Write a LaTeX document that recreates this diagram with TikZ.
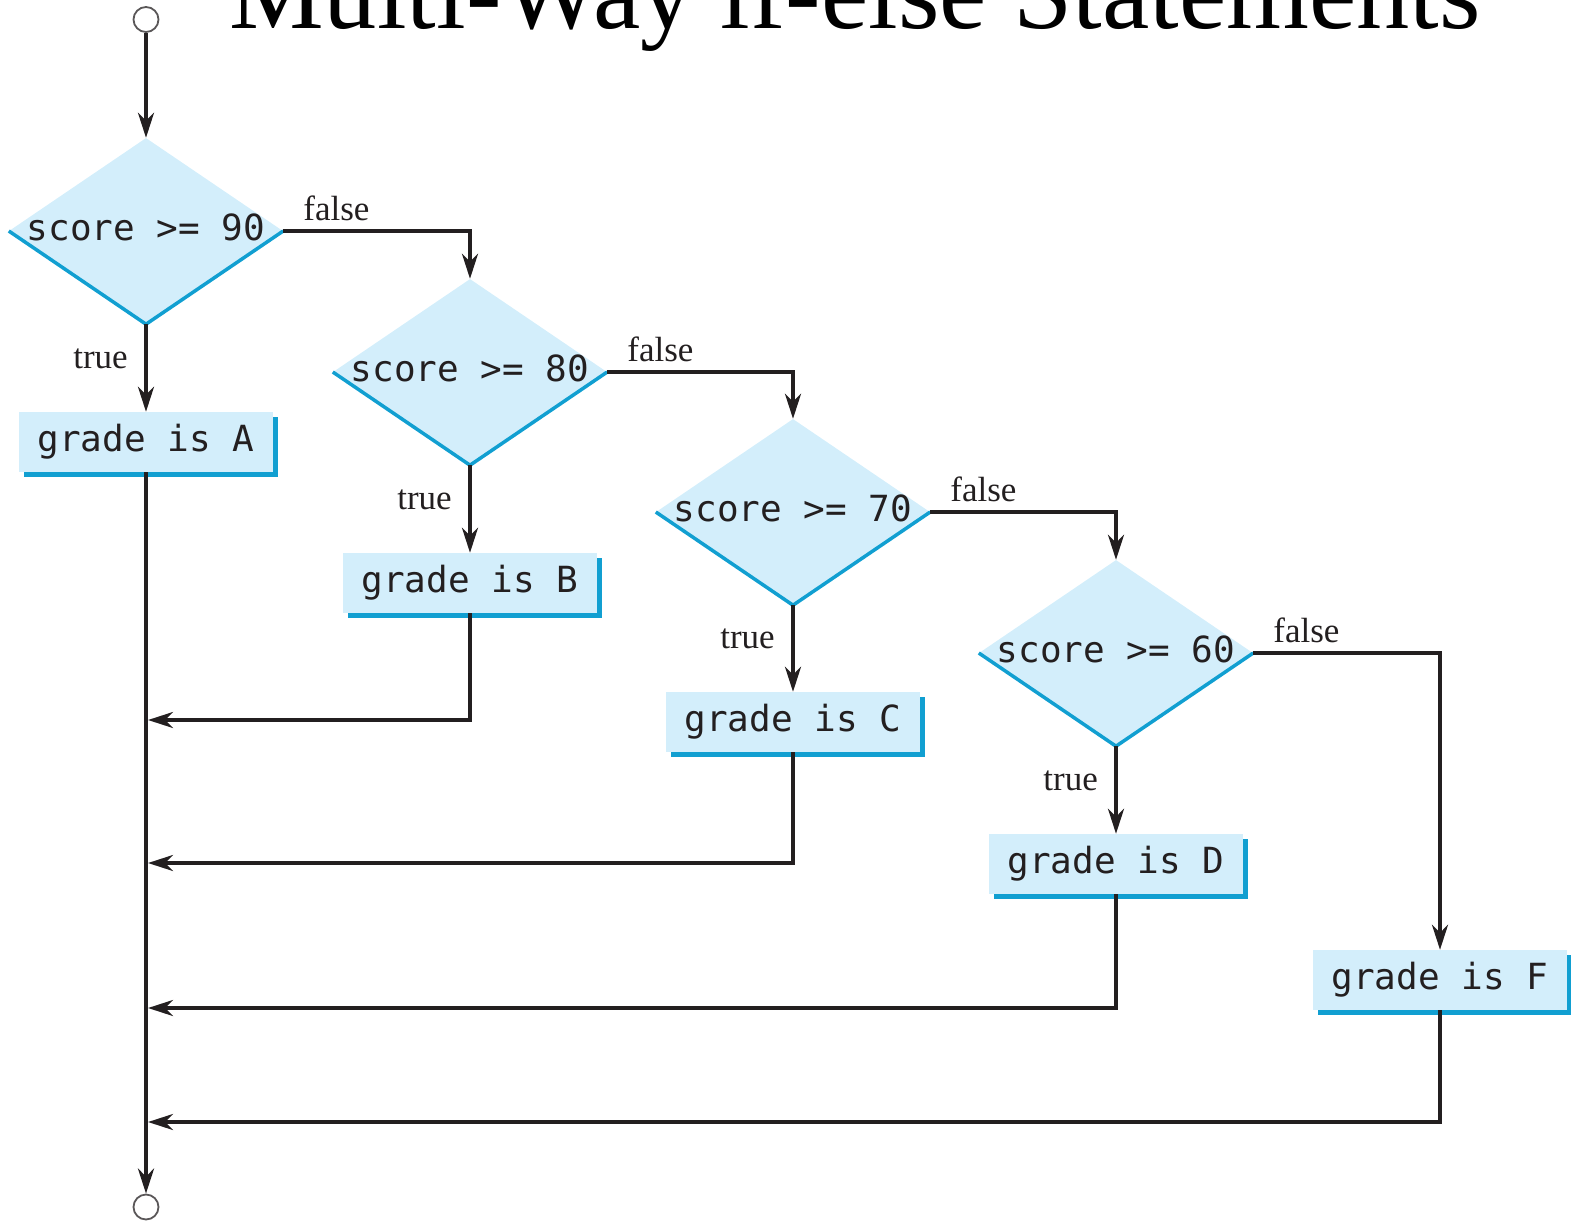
\documentclass[tikz,border=0pt]{standalone}
\usepackage{fontspec}
\setmainfont{Liberation Serif}
\newfontfamily\codefont{DejaVu Sans Mono}
\usepackage{xcolor}
\usetikzlibrary{shapes.geometric,arrows.meta,shadows}
\definecolor{boxfill}{HTML}{D3EEFB}
\definecolor{boxedge}{HTML}{119FD1}
\definecolor{ink}{HTML}{231F20}

\begin{document}
\begin{tikzpicture}[x=1pt,y=1pt]
  \tikzstyle{arrow}=[line width=3.8pt,ink,-{Stealth[length=25pt,width=16pt,inset=8pt]}]
  \tikzstyle{decision}=[diamond,fill=boxfill,minimum width=274pt,minimum height=186pt,inner sep=0pt]
  \tikzstyle{cond}=[font=\codefont\fontsize{36}{40}\selectfont,text=ink,yshift=4pt]
  \tikzstyle{lower_edge}=[line width=3.5pt,boxedge]
  \tikzstyle{stmt}=[rectangle,fill=boxfill,minimum width=254pt,minimum height=60pt,inner sep=0pt,
    font=\codefont\fontsize{36}{40}\selectfont,text=ink,
    drop shadow={fill=boxedge,opacity=1,shadow xshift=5pt,shadow yshift=-5pt}]
  \tikzstyle{terminal}=[circle,draw=ink!75,line width=1.8pt,fill=white,minimum size=25pt,inner sep=0pt]
  \tikzstyle{tlab}=[anchor=base east,xshift=-13pt,font=\fontsize{35}{38}\selectfont,text=ink]
  \tikzstyle{flab}=[anchor=base west,xshift=15pt,yshift=11pt,font=\fontsize{35}{38}\selectfont,text=ink]

  \clip (0,0) rectangle (1571,-1221);

  % title, cut at the top
  \node [anchor=base,font=\fontsize{106.5}{110}\selectfont,text=black] (title) at (855,-28) {Multi-Way if-else Statements};

  % start and end
  \node [terminal] (start) at (146,-19.5) {};
  \node [terminal] (stop) at (146,-1207) {};

  % the conditions
  \node [decision,label={[cond]center:{score >= 90}}] (d1) at (146,-231) {};
  \node [decision,label={[cond]center:{score >= 80}}] (d2) at (470,-372) {};
  \node [decision,label={[cond]center:{score >= 70}}] (d3) at (793,-512) {};
  \node [decision,label={[cond]center:{score >= 60}}] (d4) at (1116,-653) {};
  \draw [lower_edge] (d1.west) -- (d1.south) -- (d1.east);
  \draw [lower_edge] (d2.west) -- (d2.south) -- (d2.east);
  \draw [lower_edge] (d3.west) -- (d3.south) -- (d3.east);
  \draw [lower_edge] (d4.west) -- (d4.south) -- (d4.east);

  % the statements
  \node [stmt] (gA) at (146,-442) {grade is A};
  \node [stmt] (gB) at (470,-583) {grade is B};
  \node [stmt] (gC) at (793,-722) {grade is C};
  \node [stmt] (gD) at (1116,-864) {grade is D};
  \node [stmt] (gF) at (1440,-980) {grade is F};

  % where the branches join the main line
  \coordinate (jB) at (148,-720);
  \coordinate (jC) at (148,-863);
  \coordinate (jD) at (148,-1008);
  \coordinate (jF) at (148,-1122);

  % true branches
  \draw [arrow] (start.south) -- (d1.north);
  \draw [arrow] (d1.south) -- node [tlab] {true} (gA.north);
  \draw [arrow] (d2.south) -- node [tlab] {true} (gB.north);
  \draw [arrow] (d3.south) -- node [tlab] {true} (gC.north);
  \draw [arrow] (d4.south) -- node [tlab] {true} (gD.north);

  % false branches
  \draw [arrow] (d1.east) node [flab] {false} -| (d2.north);
  \draw [arrow] (d2.east) node [flab] {false} -| (d3.north);
  \draw [arrow] (d3.east) node [flab] {false} -| (d4.north);
  \draw [arrow] (d4.east) node [flab] {false} -| (gF.north);

  % back to the main line
  \draw [arrow] (gA.south) -- (stop.north);
  \draw [arrow] (gB.south) |- (jB);
  \draw [arrow] (gC.south) |- (jC);
  \draw [arrow] (gD.south) |- (jD);
  \draw [arrow] (gF.south) |- (jF);

\end{tikzpicture}
\end{document}
